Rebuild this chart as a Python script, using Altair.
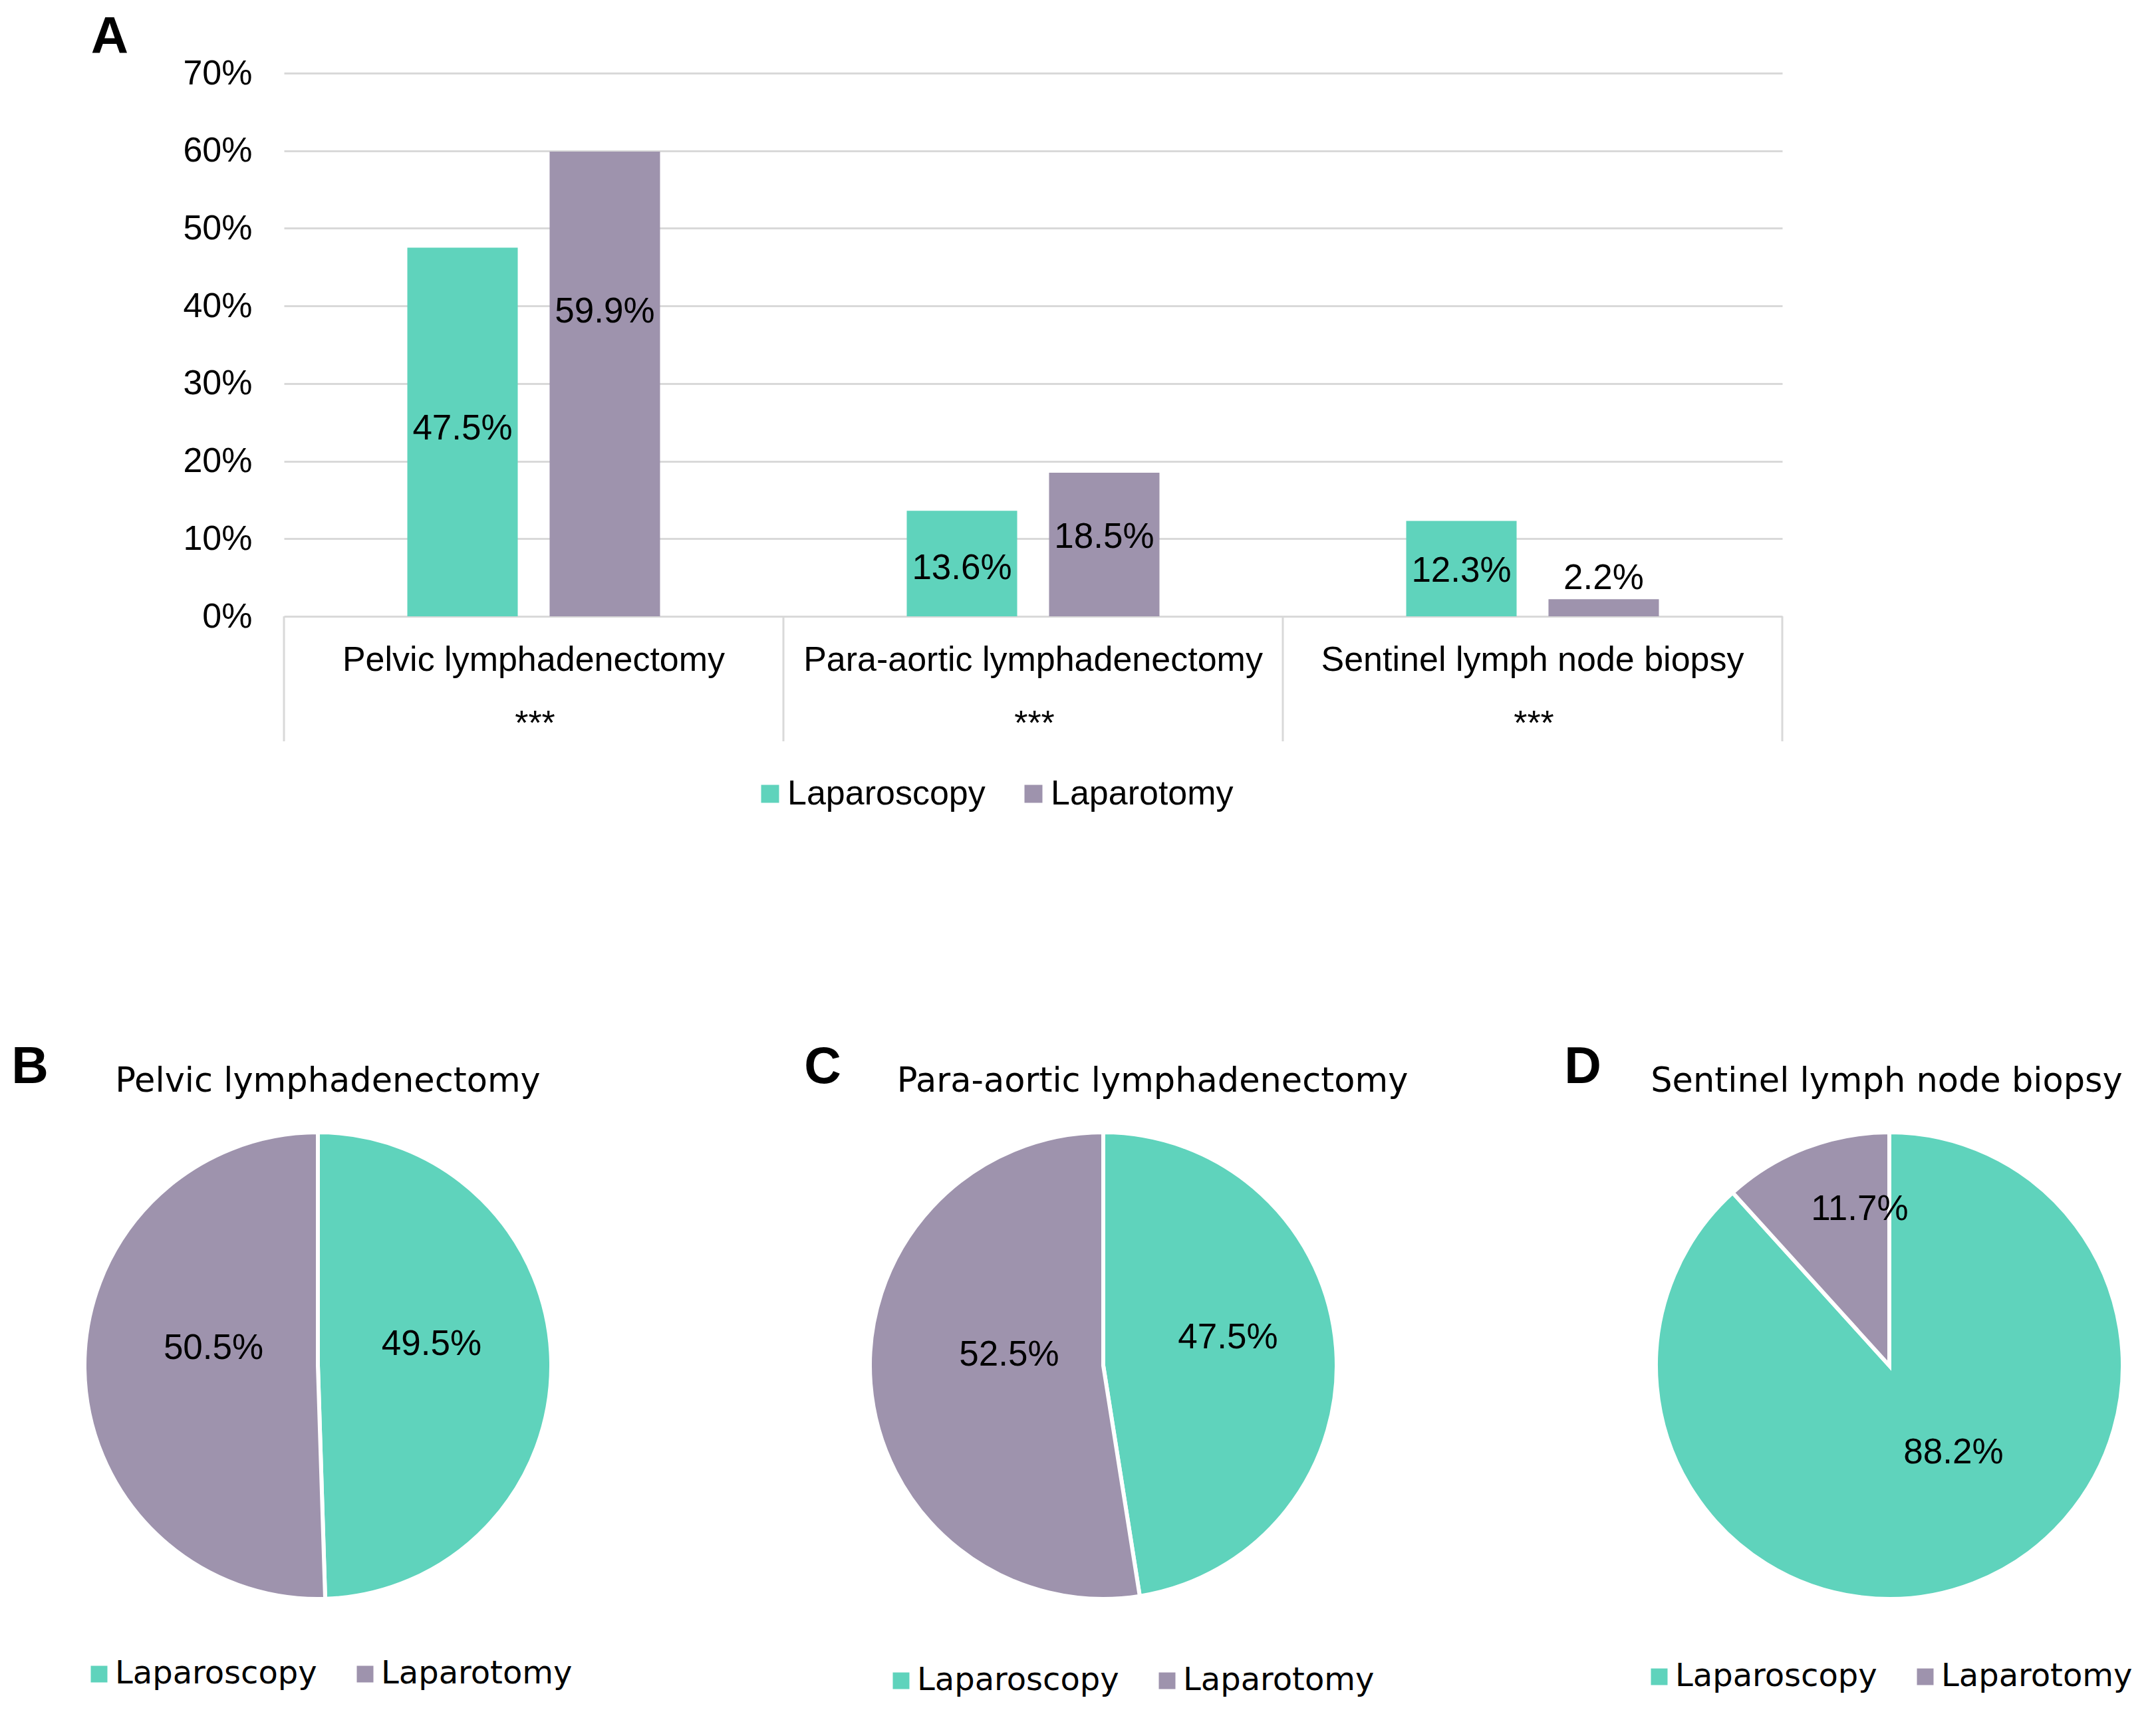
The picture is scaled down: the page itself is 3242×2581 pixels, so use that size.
import altair as alt
import pandas as pd

# ---------------- data ----------------
groups = ["Laparoscopy", "Laparotomy"]
procedures = ["Pelvic lymphadenectomy", "Para-aortic lymphadenectomy", "Sentinel lymph node biopsy"]
laparoscopy_pct = [47.5, 13.6, 12.3]
laparotomy_pct = [59.9, 18.5, 2.2]
# value-label anchors (in % units)
laparoscopy_label_at = [24.2, 6.2, 5.8]
laparotomy_label_at = [39.2, 10.2, 4.9]
significance = ["***", "***", "***"]
y_ticks = [0, 10, 20, 30, 40, 50, 60, 70]

pie_titles = ["Pelvic lymphadenectomy", "Para-aortic lymphadenectomy", "Sentinel lymph node biopsy"]
pie_letters = ["B", "C", "D"]
pie_laparoscopy = [49.5, 47.5, 88.2]
pie_laparotomy = [50.5, 52.5, 11.7]

COLORS = ["#5fd3bc", "#9e93ad"]
GRID = "#d9d9d9"
ARIAL = "Liberation Sans"
VERDANA = "DejaVu Sans"

# ---------------- bar chart (A) ----------------
rows = []
for i, p in enumerate(procedures):
    rows.append({"procedure": p, "group": groups[0], "value": laparoscopy_pct[i],
                 "label_at": laparoscopy_label_at[i], "order": 0})
    rows.append({"procedure": p, "group": groups[1], "value": laparotomy_pct[i],
                 "label_at": laparotomy_label_at[i], "order": 1})
bar_df = pd.DataFrame(rows)
cat_df = pd.DataFrame({"procedure": procedures, "sig": significance})

W, H = 2253, 817
color_scale = alt.Scale(domain=groups, range=COLORS)
xs = alt.Scale(domain=procedures, paddingInner=0, paddingOuter=0)
xo = alt.Scale(domain=groups, paddingInner=0.224, paddingOuter=0.867)

bars = alt.Chart(bar_df).mark_bar().encode(
    x=alt.X("procedure:N", scale=xs, axis=None),
    xOffset=alt.XOffset("group:N", scale=xo),
    y=alt.Y("value:Q", scale=alt.Scale(domain=[0, 70]), title=None,
            axis=alt.Axis(values=y_ticks, labelExpr="datum.value + '%'", grid=True,
                          gridColor=GRID, gridWidth=3, domain=False, ticks=False,
                          labelPadding=48, labelFont=ARIAL, labelFontSize=52,
                          labelColor="black", title=None)),
    color=alt.Color("group:N", scale=color_scale,
                    legend=alt.Legend(orient="none", legendX=705, legendY=1058,
                                      direction="horizontal", title=None,
                                      symbolType="square", symbolSize=729,
                                      symbolStrokeWidth=0, labelFont=ARIAL,
                                      labelFontSize=52, labelColor="black",
                                      labelOffset=0, columnPadding=46,
                                      labelLimit=0, padding=0)),
)

bar_labels = alt.Chart(bar_df).transform_calculate(
    label="format(datum.value, '.1f') + '%'"
).mark_text(font=ARIAL, fontSize=53, color="black", baseline="middle").encode(
    x=alt.X("procedure:N", scale=xs, axis=None),
    xOffset=alt.XOffset("group:N", scale=xo),
    y=alt.Y("label_at:Q", title=None),
    text="label:N",
)

sep = alt.Chart(cat_df).mark_rule(color=GRID, strokeWidth=3).encode(
    x=alt.X("procedure:N", scale=xs, bandPosition=0, axis=None),
    y=alt.value(H), y2=alt.value(H + 188),
)
sep_end = alt.Chart(cat_df).transform_filter(
    alt.datum.procedure == procedures[-1]
).mark_rule(color=GRID, strokeWidth=3).encode(
    x=alt.X("procedure:N", scale=xs, bandPosition=1, axis=None),
    y=alt.value(H), y2=alt.value(H + 188),
)

cat_text = alt.Chart(cat_df).mark_text(font=ARIAL, fontSize=52, color="black",
                                       baseline="alphabetic").encode(
    x=alt.X("procedure:N", scale=xs, axis=None),
    y=alt.value(899),
    text="procedure:N",
)
stars = alt.Chart(cat_df).mark_text(font=ARIAL, fontSize=52, color="black",
                                    baseline="alphabetic", dx=2).encode(
    x=alt.X("procedure:N", scale=xs, axis=None),
    y=alt.value(995),
    text="sig:N",
)
letter_a = alt.Chart(pd.DataFrame({"t": ["A"]})).mark_text(
    font=ARIAL, fontWeight="bold", fontSize=78, color="black",
    baseline="alphabetic", align="center"
).encode(x=alt.value(-262), y=alt.value(-30), text="t:N")

# invisible frame fixing the bounds of the top panel
frame = alt.Chart(pd.DataFrame({"d": [0]})).mark_rule(opacity=0).encode(
    x=alt.value(-419), x2=alt.value(0), y=alt.value(-102), y2=alt.value(1190)
)

bar_chart = alt.layer(bars, bar_labels, sep, sep_end, cat_text, stars, letter_a, frame).properties(
    width=W, height=H
)

# ---------------- pie charts (B, C, D) ----------------
PH = 1268


def pie_panel(i, width, cx, cy, title_x, letter_x, legend_x, legend_y, label_r, label_dx, label_dy):
    df = pd.DataFrame({"group": groups,
                       "value": [pie_laparoscopy[i], pie_laparotomy[i]],
                       "order": [0, 1]})
    base = alt.Chart(df).transform_calculate(
        label="format(datum.value, '.1f') + '%'"
    ).encode(
        theta=alt.Theta("value:Q", stack=True),
        order=alt.Order("order:Q"),
    )
    arcs = base.mark_arc(outerRadius=351, stroke="white", strokeWidth=6).encode(
        x=alt.value(cx), y=alt.value(cy),
        color=alt.Color("group:N", scale=color_scale,
                        legend=alt.Legend(orient="none", legendX=legend_x, legendY=legend_y,
                                          direction="horizontal", title=None,
                                          symbolType="square", symbolSize=625,
                                          symbolStrokeWidth=0, labelFont=VERDANA,
                                          labelFontSize=48, labelColor="black",
                                          labelOffset=0, columnPadding=48,
                                          labelLimit=0, padding=0)),
    )
    labels = base.mark_text(radius=label_r, dx=label_dx, dy=label_dy, font=ARIAL,
                            fontSize=53, color="black", baseline="middle").encode(
        x=alt.value(cx), y=alt.value(cy), detail="group:N", text="label:N",
    )
    title = alt.Chart(pd.DataFrame({"t": [pie_titles[i]]})).mark_text(
        font=VERDANA, fontSize=51, color="black", baseline="alphabetic", align="center"
    ).encode(x=alt.value(title_x), y=alt.value(342), text="t:N")
    letter = alt.Chart(pd.DataFrame({"t": [pie_letters[i]]})).mark_text(
        font=ARIAL, fontWeight="bold", fontSize=77, color="black",
        baseline="alphabetic", align="center"
    ).encode(x=alt.value(letter_x), y=alt.value(329), text="t:N")
    return alt.layer(arcs, labels, title, letter).properties(width=width, height=PH)


# panel origins line up with the bar plot origin (first panel) and then follow each other
pie_b = pie_panel(0, 655, 51, 754, 66, -382, -302, 1194, 164, 7, -29)
pie_c = pie_panel(1, 1074, 577, 754, 651, 155, 249, 1204, 165, 23, -29)
pie_d = pie_panel(2, 1074, 685, 754, 681, 224, 315, 1198, 196, 26, -52)

pies = alt.hconcat(pie_b, pie_c, pie_d, spacing=0).resolve_scale(
    theta="independent", color="independent"
)

chart = alt.vconcat(bar_chart, pies, spacing=0).resolve_scale(
    color="independent"
).properties(
    padding={"left": 0, "top": 0, "right": 0, "bottom": 0},
    background="white",
).configure_view(stroke=None)

chart.save("out.html", embed_options={"renderer": "svg", "actions": False})
